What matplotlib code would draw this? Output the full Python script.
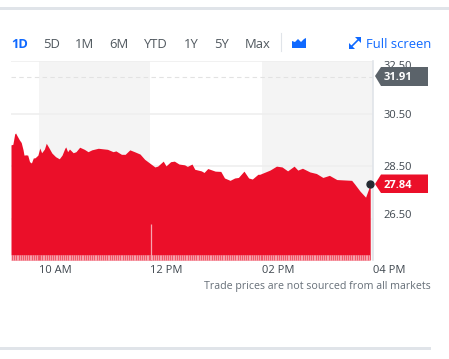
import matplotlib
matplotlib.use('Agg')
import matplotlib.pyplot as plt
from matplotlib.patches import Polygon, Rectangle
from matplotlib.ticker import MultipleLocator
from matplotlib.transforms import ScaledTranslation

plt.rcParams['font.family'] = ['Open Sans', 'DejaVu Sans']

# minutes after the 9:30 open
minutes = [0, 2, 4, 5, 6, 9, 11, 13, 14, 16, 18, 20, 22, 24, 26, 29, 31, 33, 36, 38, 41, 44, 48, 52,
           55, 58, 59, 61, 63, 67, 70, 74, 79, 83, 87, 94, 104, 110, 113, 119, 123, 128, 133, 139, 144,
           155, 158, 164, 167, 172, 176, 181, 187, 190, 195, 198, 205, 208, 212, 220, 226, 230, 236,
           241, 245, 251, 256, 260, 266, 268, 279, 286, 292, 298, 305, 309, 314, 322, 329, 336, 343,
           351, 367, 370, 376, 382, 387]
prices = [29.31, 29.33, 29.73, 29.76, 29.69, 29.50, 29.40, 29.12, 28.92, 28.93, 28.92, 28.67, 28.62,
          28.81, 28.82, 28.92, 29.19, 29.01, 29.15, 29.37, 29.19, 29.00, 28.86, 28.78, 28.92, 29.18,
          29.23, 29.05, 29.15, 29.01, 29.05, 29.22, 29.14, 29.05, 29.12, 29.18, 29.14, 29.05, 29.08,
          28.95, 28.95, 29.12, 29.05, 28.96, 28.76, 28.47, 28.50, 28.69, 28.51, 28.67, 28.69, 28.58,
          28.55, 28.49, 28.58, 28.38, 28.32, 28.26, 28.41, 28.31, 28.30, 28.05, 27.96, 28.05, 28.07,
          28.31, 28.05, 28.01, 28.19, 28.19, 28.35, 28.50, 28.47, 28.32, 28.50, 28.35, 28.42, 28.28,
          28.22, 28.07, 28.15, 27.99, 27.96, 27.83, 27.55, 27.32, 27.80]

y_ticks = [32.5, 30.5, 28.5, 26.5]
y_labels = ['32.50', '30.50', '28.50', '26.50']
x_ticks = [30, 150, 270, 390]
x_labels = ['10 AM', '12 PM', '02 PM', '04 PM']
shaded = [(30, 150), (270, 390)]
prev_close = 31.91
last_price = 27.84
last_minute = 387
spike_minute = [151]
spike_top = [26.3]
ranges = ['1D', '5D', '1M', '6M', 'YTD', '1Y', '5Y', 'Max']
range_x = [11, 43, 74.5, 109, 143.5, 183.5, 214, 245]

RED = '#eb0f29'
BLUE = '#0f69ff'
DARK = '#3f474f'
W, H = 449, 359

fig = plt.figure(figsize=(W / 100, H / 100), dpi=100)
ax = fig.add_axes([11 / W, (H - 260) / H, 362 / W, 199 / H])
ax.set_facecolor('none')
ax.set_xlim(0, 390)
ax.set_ylim(24.93, 32.5)

for a, b in shaded:
    ax.axvspan(a, b, color='#f4f4f4', lw=0, zorder=0)
ax.hlines(y_ticks, 0, 390, color='#efefef', lw=1.2, zorder=0.5)
ax.axhline(prev_close, color='#e2e2e2', lw=0.8, ls=(0, (4, 3)), zorder=0.6)
ax.fill_between(minutes, prices, 24.93, color=RED, lw=0, zorder=1)
# pink strip of small volume bars along the bottom
ax.fill_between([0, 387], 24.93, 25.12, color='white', alpha=0.28, lw=0, zorder=1.2)
ax.vlines(spike_minute, 24.93, spike_top, color='#f7a5b0', lw=0.9, zorder=1.5)
ax.plot([last_minute], [last_price], 'o', color='#232a31', ms=5, zorder=4, clip_on=False)

for s in ['top', 'left', 'bottom']:
    ax.spines[s].set_visible(False)
ax.spines['right'].set_color('#e0e4e9')
ax.spines['right'].set_linewidth(1.2)

ax.set_xticks(x_ticks)
ax.set_xticklabels(x_labels, ha='left', fontsize=8, color=DARK)
ax.xaxis.set_minor_locator(MultipleLocator(2))
ax.tick_params(axis='x', which='major', length=0, pad=3.5)
ax.tick_params(axis='x', which='minor', direction='in', length=3.6, width=0.8, color='#ffffff')
for t in ax.xaxis.get_minorticklines():
    t.set_alpha(0.45)

ax.yaxis.tick_right()
ax.set_yticks(y_ticks)
ax.set_yticklabels(y_labels, fontsize=8, color=DARK)
ax.tick_params(axis='y', length=0, pad=7.5)
ax.get_yticklabels()[0].set_va('top')
low_label = ax.get_yticklabels()[3]
low_label.set_va('bottom')
low_label.set_transform(low_label.get_transform() + ScaledTranslation(0, -2 / 100, fig.dpi_scale_trans))

# page furniture, in pixels
ui = fig.add_axes([0, 0, 1, 1])
ui.set_xlim(0, W)
ui.set_ylim(H, 0)
ui.axis('off')
ui.patch.set_alpha(0)

ui.add_patch(Rectangle((0, 7), 449, 3, color='#e0e4e9', lw=0))
ui.add_patch(Rectangle((0, 347), 431, 3, color='#e0e4e9', lw=0))

for name, x in zip(ranges, range_x):
    if name == '1D':
        ui.text(x, 43, name, color=BLUE, fontsize=9.4, fontweight='bold', va='center_baseline')
    else:
        ui.text(x, 43, name, color='#50585f', fontsize=9.4, va='center_baseline')

ui.plot([280.5, 280.5], [33, 51], color='#e0e4e9', lw=0.8)
ui.add_patch(Polygon([(292, 48), (292, 41), (295, 42), (298, 39), (301, 42), (304, 39), (306, 38), (306, 48)],
                     color=BLUE, lw=0))

# full screen arrows
ui.plot([351, 359], [47, 39], color=BLUE, lw=1.2)
ui.add_patch(Polygon([(355, 37), (361, 37), (361, 43)], color=BLUE, lw=0))
ui.add_patch(Polygon([(349, 43), (349, 49), (355, 49)], color=BLUE, lw=0))
ui.text(431, 43, 'Full screen', color=BLUE, fontsize=9.4, ha='right', va='center_baseline')

# price flags
ui.add_patch(Polygon([(375, 76), (381, 67), (428, 67), (428, 86), (381, 86)], color='#5b636a', lw=0))
ui.text(384, 76.5, '31.91', color='white', fontsize=8, fontweight='bold', va='center_baseline')
ui.add_patch(Polygon([(375, 184), (381, 174.5), (428, 174.5), (428, 193), (381, 193)], color=RED, lw=0))
ui.text(384, 184, '27.84', color='white', fontsize=8, fontweight='bold', va='center_baseline')

ui.text(431, 285, 'Trade prices are not sourced from all markets', color='#666f78', fontsize=7.7,
        ha='right', va='center_baseline')

plt.savefig('out.png', dpi=100)
plt.close()
